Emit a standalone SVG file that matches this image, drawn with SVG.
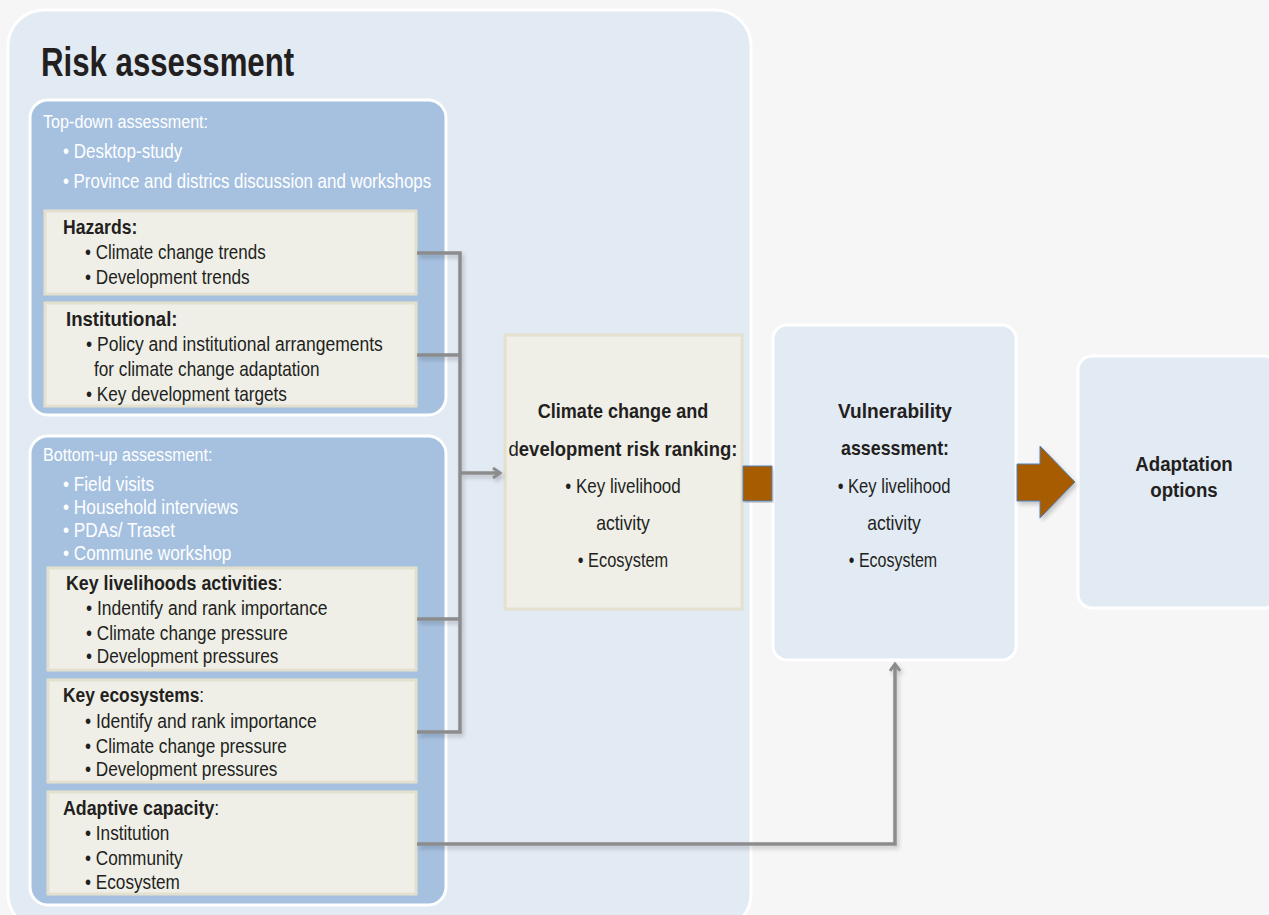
<svg xmlns="http://www.w3.org/2000/svg" width="1269" height="915" viewBox="0 0 1269 915">
<defs>
<style>
text{font-family:"Liberation Sans",Arial,sans-serif;fill:#231f20;font-size:20px}
.w{fill:#ffffff}
.b{font-weight:bold}
.c{text-anchor:middle}
.t40{font-size:40px}
.t19{font-size:19px}
.t21{font-size:21px}
.panel{fill:#e2eaf4;stroke:#ffffff;stroke-width:3}
.blue{fill:#a6c1e0;stroke:#ffffff;stroke-width:3}
.card{fill:#efefe8;stroke:#e3e0cd;stroke-width:3}
.con{fill:none;stroke:#8c8c8c;stroke-width:3.5}
.brown{fill:#a85b06;stroke:#4f81bd;stroke-width:1}
</style>
<filter id="sh" x="-5%" y="-5%" width="110%" height="110%">
<feDropShadow dx="2" dy="3" stdDeviation="2" flood-color="#000" flood-opacity="0.2"/>
</filter>
<marker id="ah" viewBox="0 0 12 12" refX="10" refY="6" markerWidth="12" markerHeight="12" markerUnits="userSpaceOnUse" orient="auto">
<path d="M3,1 L10,6 L3,11" fill="none" stroke="#8c8c8c" stroke-width="3"/>
</marker>
</defs>
<rect width="1269" height="915" fill="#f6f6f6"/>

<g id="risk-assessment">
<rect class="panel" x="8" y="10" width="743" height="920" rx="36"/>
<text class="b t40" transform="translate(41,76) scale(0.78,1)">Risk assessment</text>
</g>

<g id="top-down">
<rect class="blue" x="30" y="100" width="416" height="315" rx="18"/>
<text class="w t19" transform="translate(43,128) scale(0.85,1)">Top-down assessment:</text>
<text class="w" transform="translate(63,158) scale(0.85,1)">• Desktop-study</text>
<text class="w" transform="translate(63,188) scale(0.845,1)">• Province and districs discussion and workshops</text>
</g>

<g id="hazards">
<rect class="card" x="45" y="211" width="371" height="83"/>
<text class="b" transform="translate(63,234) scale(0.88,1)">Hazards:</text>
<text transform="translate(85,259) scale(0.85,1)">• Climate change trends</text>
<text transform="translate(85,284) scale(0.86,1)">• Development trends</text>
</g>

<g id="institutional">
<rect class="card" x="45" y="303" width="371" height="103"/>
<text class="b" transform="translate(66,326) scale(0.93,1)">Institutional:</text>
<text transform="translate(86,351) scale(0.875,1)">• Policy and institutional arrangements</text>
<text transform="translate(94,376) scale(0.86,1)">for climate change adaptation</text>
<text transform="translate(86,401) scale(0.86,1)">• Key development targets</text>
</g>

<g id="bottom-up">
<rect class="blue" x="30" y="436" width="416" height="469" rx="18"/>
<text class="w t19" transform="translate(43,461) scale(0.85,1)">Bottom-up assessment:</text>
<text class="w" transform="translate(63,491) scale(0.86,1)">• Field visits</text>
<text class="w" transform="translate(63,514) scale(0.865,1)">• Household interviews</text>
<text class="w" transform="translate(63,537) scale(0.86,1)">• PDAs/ Traset</text>
<text class="w" transform="translate(63,560) scale(0.86,1)">• Commune workshop</text>
</g>

<g id="key-livelihoods">
<rect class="card" x="48" y="568" width="368" height="102"/>
<text transform="translate(66,590) scale(0.89,1)"><tspan class="b">Key livelihoods activities</tspan>:</text>
<text transform="translate(86,615) scale(0.875,1)">• Indentify and rank importance</text>
<text transform="translate(86,640) scale(0.86,1)">• Climate change pressure</text>
<text transform="translate(86,663) scale(0.86,1)">• Development pressures</text>
</g>

<g id="key-ecosystems">
<rect class="card" x="48" y="680" width="368" height="102"/>
<text transform="translate(63,702) scale(0.87,1)"><tspan class="b">Key ecosystems</tspan>:</text>
<text transform="translate(85,728) scale(0.875,1)">• Identify and rank importance</text>
<text transform="translate(85,753) scale(0.86,1)">• Climate change pressure</text>
<text transform="translate(85,776) scale(0.86,1)">• Development pressures</text>
</g>

<g id="adaptive-capacity">
<rect class="card" x="48" y="792" width="368" height="102"/>
<text transform="translate(63,815) scale(0.89,1)"><tspan class="b">Adaptive capacity</tspan>:</text>
<text transform="translate(85,840) scale(0.86,1)">• Institution</text>
<text transform="translate(85,865) scale(0.86,1)">• Community</text>
<text transform="translate(85,889) scale(0.86,1)">• Ecosystem</text>
</g>

<g id="risk-ranking">
<rect class="card" x="505" y="335" width="237" height="274"/>
<text class="c b t21" transform="translate(623,418) scale(0.86,1)">Climate change and</text>
<text class="c b t21" transform="translate(623,456) scale(0.88,1)"><tspan font-weight="normal">d</tspan>evelopment risk ranking:</text>
<text class="c" transform="translate(623,493) scale(0.85,1)">• Key livelihood</text>
<text class="c" transform="translate(623,530) scale(0.88,1)">activity</text>
<text class="c" transform="translate(623,567) scale(0.82,1)">• Ecosystem</text>
</g>

<g id="vulnerability">
<rect class="panel" x="773" y="325" width="243" height="335" rx="14"/>
<text class="c b t21" transform="translate(895,418) scale(0.91,1)">Vulnerability</text>
<text class="c b t21" transform="translate(895,455) scale(0.85,1)">assessment:</text>
<text class="c" transform="translate(894,493) scale(0.83,1)">• Key livelihood</text>
<text class="c" transform="translate(894,530) scale(0.88,1)">activity</text>
<text class="c" transform="translate(893,567) scale(0.8,1)">• Ecosystem</text>
</g>

<g id="adaptation">
<rect class="panel" x="1078" y="356" width="200" height="252" rx="14"/>
<text class="c b t21" transform="translate(1184,471) scale(0.89,1)">Adaptation</text>
<text class="c b t21" transform="translate(1184,497) scale(0.89,1)">options</text>
</g>

<g id="connectors">
<g filter="url(#sh)">
<path class="con" d="M417,253 H460 V732 H417 M417,355 H460 M417,619 H460"/>
<path class="con" d="M460,473 H500" marker-end="url(#ah)"/>
<path class="con" d="M417,844 H895 V664" marker-end="url(#ah)"/>
</g>
<path class="brown" d="M743,466 H772 V501 H743 Z" filter="url(#sh)"/>
<path class="brown" d="M1017,464 H1040 V446 L1075,482 L1040,518 V501 H1017 Z" filter="url(#sh)"/>
</g>
</svg>
